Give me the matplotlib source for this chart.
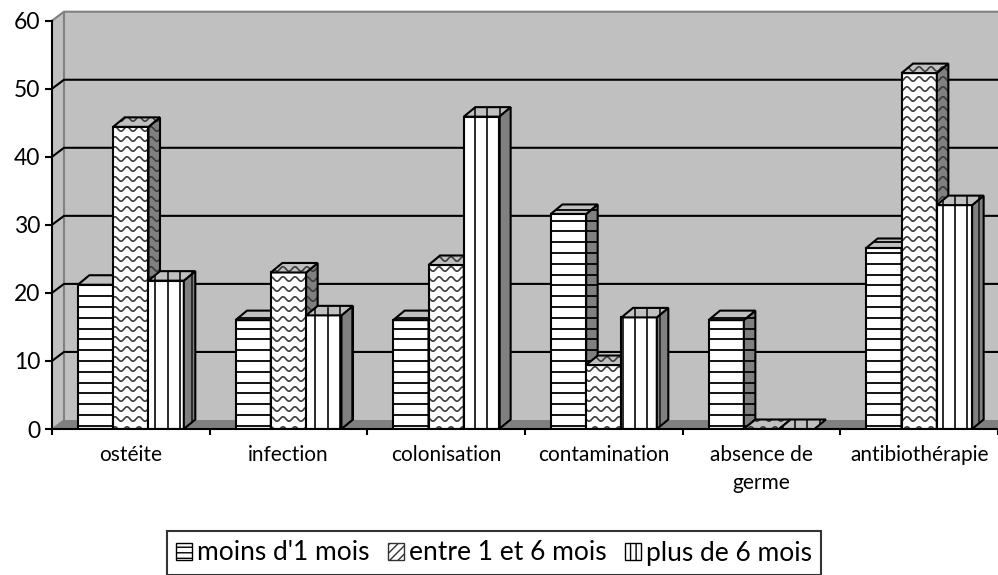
"""Répartition des prélèvements par délai — histogramme 3D groupé."""
import matplotlib
matplotlib.use("Agg")
import matplotlib.pyplot as plt
import numpy as np
from matplotlib.patches import Polygon, Patch

categories = ["ostéite", "infection", "colonisation", "contamination",
              "absence de\ngerme", "antibiothérapie"]
series_names = ["moins d'1 mois", "entre 1 et 6 mois", "plus de 6 mois"]
moins_1_mois = [21.2, 16.0, 16.0, 31.6, 16.0, 26.6]
entre_1_6_mois = [44.4, 23.0, 24.1, 9.4, 0.0, 52.3]
plus_6_mois = [21.8, 16.7, 45.9, 16.4, 0.0, 32.9]
y_ticks = [0, 10, 20, 30, 40, 50, 60]

W, H, DPI = 998, 575, 100
FONT = ["Lato", "DejaVu Sans"]
plt.rcParams["font.family"] = FONT

fig = plt.figure(figsize=(W / DPI, H / DPI), dpi=DPI)
ax = fig.add_axes([52 / W, 146 / H, 946 / W, 408.3 / H])
ax.set_xlim(0, len(categories))
ax.set_ylim(0, 60)

# pixel -> data units
ux = len(categories) / 946
uy = 60 / 408.3

WALL_DX, WALL_DY = 12 * ux, 9 * uy
BAR_DX, BAR_DY = 11.5 * ux, 9.5 * uy
BW = 0.224
WALL = "#c0c0c0"
EDGE_GRAY = "#808080"

# back wall, side wall, floor
x_end = len(categories) + 1
ax.add_patch(Polygon([(WALL_DX, WALL_DY), (x_end, WALL_DY), (x_end, 60 + WALL_DY),
                      (WALL_DX, 60 + WALL_DY)], closed=True, fc=WALL, ec="none",
                     zorder=0, clip_on=False))
ax.add_patch(Polygon([(0, 0), (WALL_DX, WALL_DY), (WALL_DX, 60 + WALL_DY), (0, 60)],
                     closed=True, fc=WALL, ec="none", zorder=0, clip_on=False))
ax.add_patch(Polygon([(0, 0), (x_end, 0), (x_end, WALL_DY), (WALL_DX, WALL_DY)],
                     closed=True, fc=EDGE_GRAY, ec="none", zorder=0.5, clip_on=False))
ax.plot([0, WALL_DX, x_end], [60, 60 + WALL_DY, 60 + WALL_DY], color=EDGE_GRAY,
        lw=1.5, zorder=0.6, clip_on=False)
ax.plot([WALL_DX, WALL_DX], [WALL_DY, 60 + WALL_DY], color=EDGE_GRAY, lw=1.5,
        zorder=0.6, clip_on=False)
ax.plot([0, WALL_DX], [0, WALL_DY], color=EDGE_GRAY, lw=1.0, zorder=0.6,
        clip_on=False)

# gridlines on the walls
for v in y_ticks[1:-1]:
    ax.plot([0, WALL_DX, x_end], [v, v + WALL_DY, v + WALL_DY], color="black",
            lw=1.5, zorder=0.7, clip_on=False)


def fill_pattern(poly, kind, z):
    xy = poly.get_xy()
    x0, x1 = xy[:, 0].min(), xy[:, 0].max()
    y0, y1 = xy[:, 1].min(), xy[:, 1].max()
    lines = []
    if kind == "h":
        step = 10.8 * uy
        for y in np.arange(np.floor(y0 / step) * step + 0.3 * step, y1 + step, step):
            lines += ax.plot([x0, x1], [y, y], color="black", lw=1.3, zorder=z)
    elif kind == "v":
        step = 12.3 * ux
        for x in np.arange(np.floor(x0 / step) * step + 0.4 * step, x1 + step, step):
            lines += ax.plot([x, x], [y0, y1], color="#2a2a2a", lw=1.4, zorder=z)
    else:
        step = 10 * uy
        xs = np.linspace(x0, x1, 120)
        wave = 2.2 * uy * np.sin(2 * np.pi * (xs / ux) / 12.0)
        for y in np.arange(np.floor(y0 / step) * step, y1 + step, step):
            lines += ax.plot(xs, y + wave, color="#3c3c3c", lw=1.2, zorder=z)
    for ln in lines:
        ln.set_clip_path(poly)


def draw_bar(xl, v, kind, z):
    xr = xl + BW
    faces = []
    if v > 0:
        faces.append(([(xl, 0), (xr, 0), (xr, v), (xl, v)], "#ffffff"))
        faces.append(([(xr, 0), (xr + BAR_DX, BAR_DY), (xr + BAR_DX, v + BAR_DY),
                       (xr, v)], "#808080"))
    faces.append(([(xl, v), (xr, v), (xr + BAR_DX, v + BAR_DY), (xl + BAR_DX, v + BAR_DY)],
                  "#c0c0c0"))
    for pts, fc in faces:
        poly = Polygon(pts, closed=True, fc=fc, ec="none", zorder=z)
        ax.add_patch(poly)
        fill_pattern(poly, kind, z + 0.01)
        ax.add_patch(Polygon(pts, closed=True, fc="none", ec="black", lw=1.5,
                             zorder=z + 0.02, joinstyle="miter"))
        z += 0.05
    return z


series = [moins_1_mois, entre_1_6_mois, plus_6_mois]
kinds = ["h", "w", "v"]
z = 2
for i in range(len(categories)):
    left = i + 0.5 - 1.5 * BW
    for s, (vals, kind) in enumerate(zip(series, kinds)):
        z = draw_bar(left + s * BW, vals[i], kind, z)

# axes
for side in ["top", "right"]:
    ax.spines[side].set_visible(False)
for side in ["left", "bottom"]:
    ax.spines[side].set_color("black")
    ax.spines[side].set_linewidth(1.5)
    ax.spines[side].set_zorder(50)

ax.set_yticks(y_ticks)
ax.set_yticklabels([str(t) for t in y_ticks])
ax.tick_params(axis="y", length=5, width=1.5, pad=3.5, labelsize=16.5)

ax.set_xticks(range(len(categories) + 1))
ax.set_xticklabels([])
ax.set_xticks([i + 0.5 for i in range(len(categories))], minor=True)
ax.set_xticklabels(categories, minor=True, fontsize=15, linespacing=1.5)
ax.tick_params(axis="x", which="major", length=4, width=1.5)
ax.tick_params(axis="x", which="minor", length=0, pad=11.5)

# legend
handles = [
    Patch(facecolor="white", edgecolor="black", hatch="---", label=series_names[0]),
    Patch(facecolor="white", edgecolor="#333333", hatch="////", label=series_names[1]),
    Patch(facecolor="white", edgecolor="black", hatch="|||", label=series_names[2]),
]
leg = fig.legend(handles=handles, loc="center", bbox_to_anchor=(494 / W, 1 - 553 / H),
                 ncol=3, fontsize=19, frameon=True, fancybox=False,
                 handlelength=0.6, handleheight=0.6, handletextpad=0.2,
                 columnspacing=0.7, borderpad=0.35, borderaxespad=0)
leg.get_frame().set_edgecolor("black")
leg.get_frame().set_linewidth(1.5)

fig.savefig("out.png", dpi=DPI)
